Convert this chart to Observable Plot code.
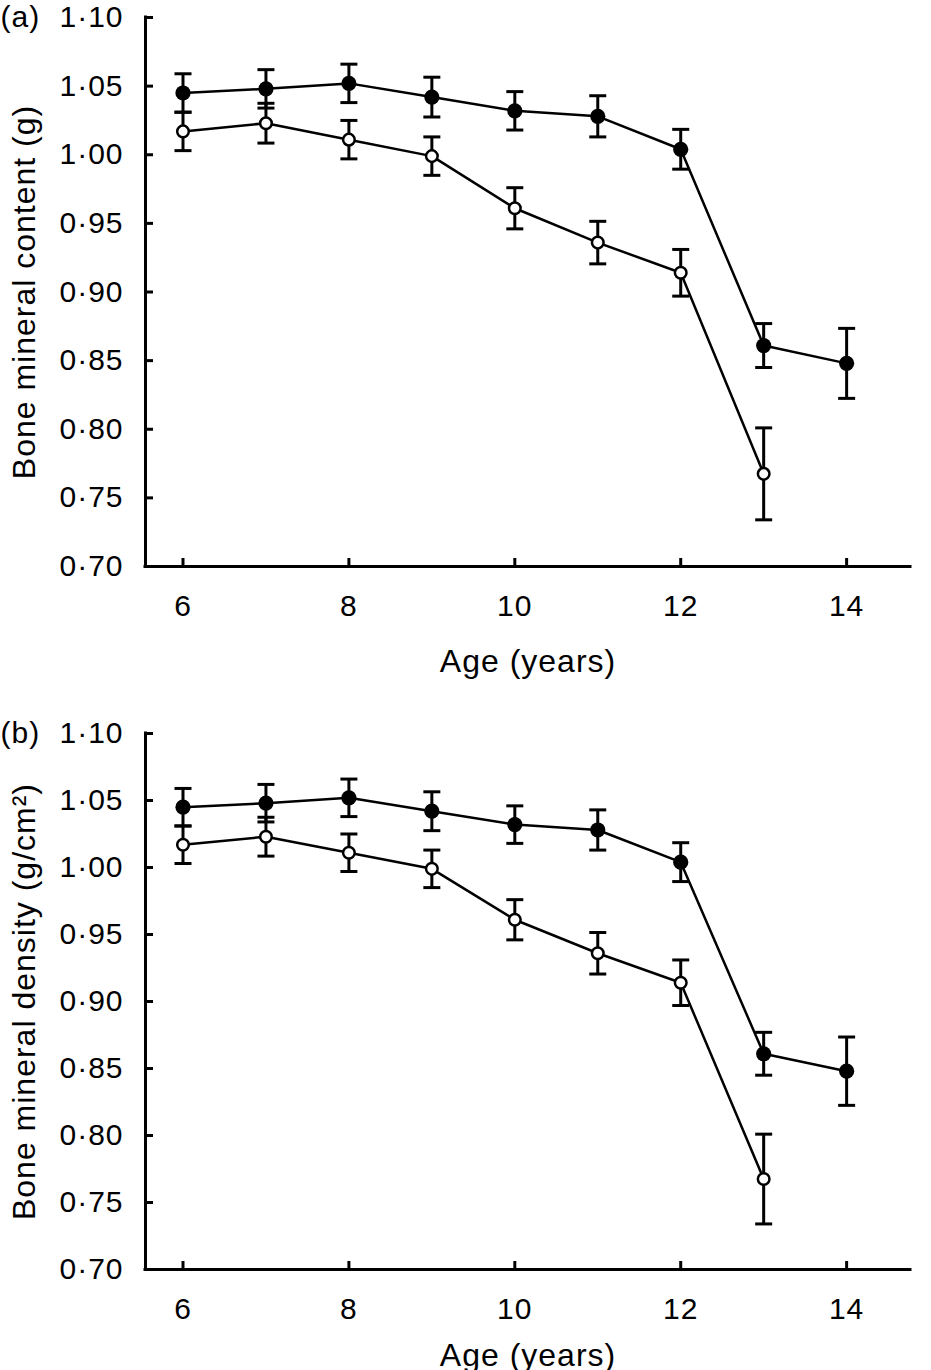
<!DOCTYPE html>
<html><head><meta charset="utf-8">
<script src="https://cdn.jsdelivr.net/npm/d3@7"></script>
<script src="https://cdn.jsdelivr.net/npm/@observablehq/plot@0.6"></script>
<style>
html,body{margin:0;padding:0;background:#fff;}
#chart svg{display:block;}
</style></head><body><div id="chart"></div>
<script>
// ---- data ----
const agesFilled = [6, 7, 8, 9, 10, 11, 12, 13, 14];
const agesOpen = [6, 7, 8, 9, 10, 11, 12, 13];

// (a) bone mineral content (g)
const bmcFilledMean = [1.045, 1.048, 1.052, 1.042, 1.032, 1.028, 1.004, 0.861, 0.848];
const bmcFilledErr  = [0.014, 0.014, 0.014, 0.0145, 0.014, 0.015, 0.0145, 0.016, 0.0255];
const bmcOpenMean   = [1.017, 1.023, 1.011, 0.999, 0.961, 0.936, 0.914, 0.7675];
const bmcOpenErr    = [0.014, 0.0145, 0.014, 0.014, 0.015, 0.0155, 0.017, 0.0335];

// (b) bone mineral density (g/cm2)
const bmdFilledMean = [1.045, 1.048, 1.052, 1.042, 1.032, 1.028, 1.004, 0.861, 0.848];
const bmdFilledErr  = [0.014, 0.014, 0.014, 0.0145, 0.014, 0.015, 0.0145, 0.016, 0.0255];
const bmdOpenMean   = [1.017, 1.023, 1.011, 0.999, 0.961, 0.936, 0.914, 0.7675];
const bmdOpenErr    = [0.014, 0.0145, 0.014, 0.014, 0.015, 0.0155, 0.017, 0.0335];

const yTicks = [0.70, 0.75, 0.80, 0.85, 0.90, 0.95, 1.00, 1.05, 1.10];
const yTickLabels = ["0·70", "0·75", "0·80", "0·85", "0·90", "0·95", "1·00", "1·05", "1·10"];
const xTicks = [6, 8, 10, 12, 14];
const xTickLabels = ["6", "8", "10", "12", "14"];
const xDomain = [5.548, 14.77];
const yDomain = [0.70, 1.10];

const toRows = (ages, mean, err) => ages.map((age, i) => ({age, mean: mean[i], err: err[i]}));

const capSymbol = {
  draw(ctx, size) {
    const w = Math.sqrt(size / Math.PI);
    ctx.moveTo(-w, 0);
    ctx.lineTo(w, 0);
  }
};

function series(rows) {
  return [
    Plot.line(rows, {x: "age", y: "mean", stroke: "black", strokeWidth: 2.5}),
    Plot.ruleX(rows, {x: "age", y1: d => d.mean - d.err, y2: d => d.mean + d.err, stroke: "black", strokeWidth: 3}),
    Plot.dot(rows, {x: "age", y: d => d.mean + d.err, symbol: capSymbol, r: 8.5, stroke: "black", strokeWidth: 3, fill: "none"}),
    Plot.dot(rows, {x: "age", y: d => d.mean - d.err, symbol: capSymbol, r: 8.5, stroke: "black", strokeWidth: 3, fill: "none"})
  ];
}

function panel({letter, ylabel, filled, open, marginTop, marginBottom, xTitleDy}) {
  return Plot.plot({
    width: 931,
    height: 685,
    marginLeft: 145,
    marginRight: 21,
    marginTop,
    marginBottom,
    x: {domain: xDomain},
    y: {domain: yDomain},
    style: {fontFamily: "'Liberation Sans', Arial, sans-serif", color: "black", background: "white", letterSpacing: "1px", overflow: "visible"},
    marks: [
      Plot.ruleX([xDomain[0]], {stroke: "black", strokeWidth: 3, strokeLinecap: "square"}),
      Plot.ruleY([yDomain[0]], {stroke: "black", strokeWidth: 3, strokeLinecap: "square"}),
      Plot.axisY(yTicks, {fill: "none", stroke: "black", tickSize: 8, dx: 8, strokeWidth: 3, label: null}),
      Plot.axisX(xTicks, {fill: "none", stroke: "black", tickSize: 8, dy: -8, strokeWidth: 3, label: null}),
      Plot.axisY(yTicks, {tickSize: 0, tickPadding: 22, fontSize: 30, label: null, fill: "black", stroke: "none",
        tickFormat: d => yTickLabels[yTicks.indexOf(d)]}),
      Plot.axisX(xTicks, {tickSize: 0, tickPadding: 28, fontSize: 30, label: null, fill: "black", stroke: "none",
        tickFormat: d => xTickLabels[xTicks.indexOf(d)]}),
      Plot.text([ylabel], {text: d => d, frameAnchor: "left", dx: -121, rotate: -90, textAnchor: "middle", lineAnchor: "middle", fontSize: 32, fill: "black"}),
      Plot.text(["Age (years)"], {text: d => d, frameAnchor: "bottom", dy: xTitleDy, textAnchor: "middle", fontSize: 32, fill: "black", lineAnchor: "middle"}),
      Plot.text([letter], {text: d => d, frameAnchor: "top-left", dx: -145, textAnchor: "start", lineAnchor: "middle", fontSize: 30, fill: "black"}),
      ...series(filled),
      ...series(open),
      Plot.dot(filled, {x: "age", y: "mean", r: 7.6, fill: "black", stroke: "none"}),
      Plot.dot(open, {x: "age", y: "mean", r: 5.8, fill: "white", stroke: "black", strokeWidth: 2.5})
    ]
  });
}

const chart = document.getElementById("chart");
chart.append(panel({
  letter: "(a)",
  ylabel: "Bone mineral content (g)",
  filled: toRows(agesFilled, bmcFilledMean, bmcFilledErr),
  open: toRows(agesOpen, bmcOpenMean, bmcOpenErr),
  marginTop: 17, marginBottom: 119, xTitleDy: 95
}));
chart.append(panel({
  letter: "(b)",
  ylabel: "Bone mineral density (g/cm²)",
  filled: toRows(agesFilled, bmdFilledMean, bmdFilledErr),
  open: toRows(agesOpen, bmdOpenMean, bmdOpenErr),
  marginTop: 48, marginBottom: 101, xTitleDy: 86
}));
</script></body></html>
